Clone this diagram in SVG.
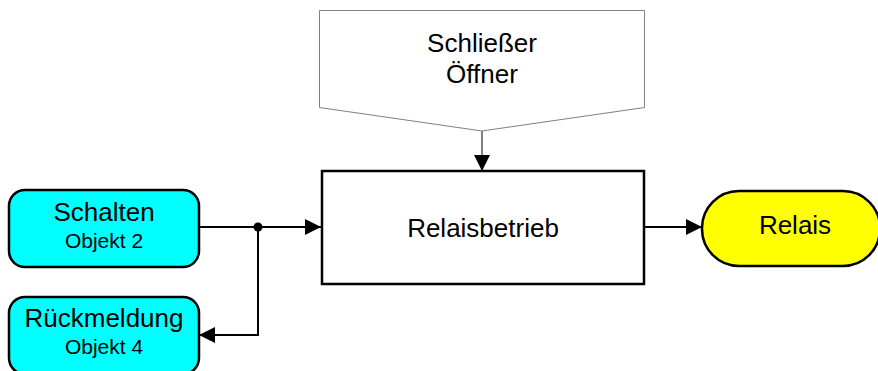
<svg xmlns="http://www.w3.org/2000/svg" width="878" height="371" viewBox="0 0 878 371">
  <defs>
    <style>
      .lbl { font-family: "Liberation Sans", Arial, sans-serif; fill: #000; text-anchor: middle; }
      .big { font-size: 26px; }
      .small { font-size: 21px; }
      .obj { fill: #00ffff; stroke: #000; stroke-width: 2.5; }
      .wire { fill: none; stroke: #000; stroke-width: 2; }
      .thin { fill: none; stroke: #000; stroke-width: 1; }
    </style>
    <marker id="arrow" viewBox="0 0 16 16" refX="16" refY="8" markerWidth="16" markerHeight="16" markerUnits="userSpaceOnUse" orient="auto">
      <path d="M0,0 L16,8 L0,16 Z" fill="#000"/>
    </marker>
  </defs>
  <rect width="878" height="371" fill="#fff"/>

  <g id="connectors">
    <path class="wire" d="M199,227 H321" marker-end="url(#arrow)"/>
    <path class="wire" d="M258,227 V335 H199" marker-end="url(#arrow)"/>
    <circle cx="258" cy="227" r="4.5" fill="#000"/>
    <path class="thin" d="M482,131 V171" marker-end="url(#arrow)"/>
    <path class="wire" d="M644,227 H702" marker-end="url(#arrow)"/>
  </g>

  <g id="param">
    <path d="M319.5,10.5 H644.5 V107.5 L482,131 L319.5,107.5 Z" fill="#fff" stroke="#808080" stroke-width="1"/>
    <text class="lbl big" x="482" y="52">Schließer</text>
    <text class="lbl big" x="482" y="83">Öffner</text>
  </g>

  <g id="relaisbetrieb">
    <rect x="322" y="171" width="322" height="113" fill="#fff" stroke="#000" stroke-width="2.5"/>
    <text class="lbl big" x="483" y="237">Relaisbetrieb</text>
  </g>

  <g id="schalten">
    <rect class="obj" x="9" y="190" width="190" height="77" rx="16" ry="16"/>
    <text class="lbl big" x="104" y="221">Schalten</text>
    <text class="lbl small" x="104" y="248">Objekt 2</text>
  </g>

  <g id="rueckmeldung">
    <rect class="obj" x="9" y="297" width="190" height="77" rx="16" ry="16"/>
    <text class="lbl big" x="104" y="327">Rückmeldung</text>
    <text class="lbl small" x="104" y="354">Objekt 4</text>
  </g>

  <g id="relais">
    <rect x="702" y="191" width="178" height="75" rx="37" ry="37" fill="#ffff00" stroke="#000" stroke-width="2.5"/>
    <text class="lbl big" x="795" y="234">Relais</text>
  </g>
</svg>
